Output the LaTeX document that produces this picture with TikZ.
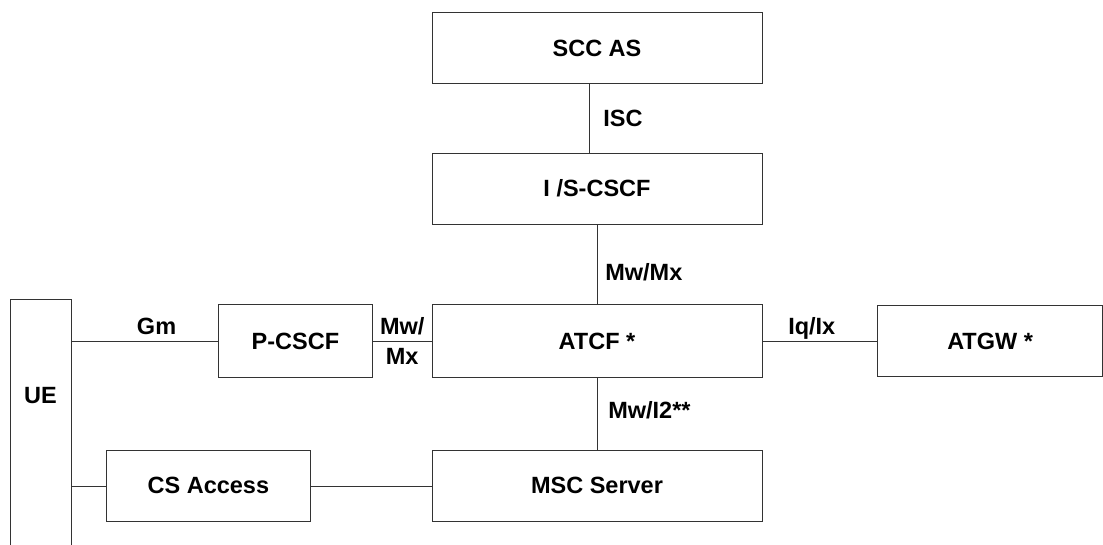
\documentclass[tikz,border=0pt]{standalone}
\usepackage{fontspec}
\setmainfont{Liberation Sans}
\usepackage{tikz}
\usetikzlibrary{positioning}

\begin{document}
\begin{tikzpicture}[x=1pt,y=-1pt,semithick,node distance=70pt,font=\fontsize{23.5}{28}\selectfont\bfseries]
 \tikzstyle{box}=[draw=black!80,rectangle,minimum width=330pt,minimum height=71pt,inner sep=0pt]
 \tikzstyle{lbl}=[inner sep=6pt,text height=17pt,text depth=0pt]
 \useasboundingbox (0,0) rectangle (1103,545);

   \node[box] (sccas) at (597,48) {SCC AS};
   \node[box,below=69pt of sccas] (iscscf) {I /S-CSCF};
   \node[box,below=80pt of iscscf,minimum height=73pt] (atcf) {ATCF *};
   \node[box,below=72pt of atcf] (msc) {MSC Server};
   \node[box,left=59pt of atcf,minimum width=154pt,minimum height=73pt] (pcscf) {P-CSCF};
   \node[box,right=115pt of atcf,minimum width=225pt] (atgw) {ATGW *};
   \node[box,left=121pt of msc,minimum width=204pt] (csaccess) {CS Access};
   % UE box runs off the bottom of the page
   \node[box,minimum width=61pt,minimum height=270pt,anchor=north west] (ue) at (10,299) {};
   \node (uetext) at (40.5,396) {UE};

   \path[draw=black!80]
   ([xshift=-8pt]sccas.south) edge node[lbl,right=8pt] {ISC} ([xshift=-8pt]iscscf.north)
   (iscscf.south) edge node[lbl,right=2pt,pos=0.6] {Mw/Mx} (atcf.north)
   (atcf.south) edge node[lbl,right=5pt,pos=0.45] {Mw/I2**} (msc.north)
   (ue.east |- pcscf.west) edge node[lbl,above,pos=0.58] {Gm} (pcscf.west)
   (pcscf.east) edge node[lbl,above] {Mw/} node[lbl,below] {Mx} (atcf.west)
   (atcf.east) edge node[lbl,above,pos=0.43] {Iq/Ix} (atgw.west)
   (ue.east |- csaccess.west) edge (csaccess.west)
   (csaccess.east) edge (msc.west);

\end{tikzpicture}
\end{document}
